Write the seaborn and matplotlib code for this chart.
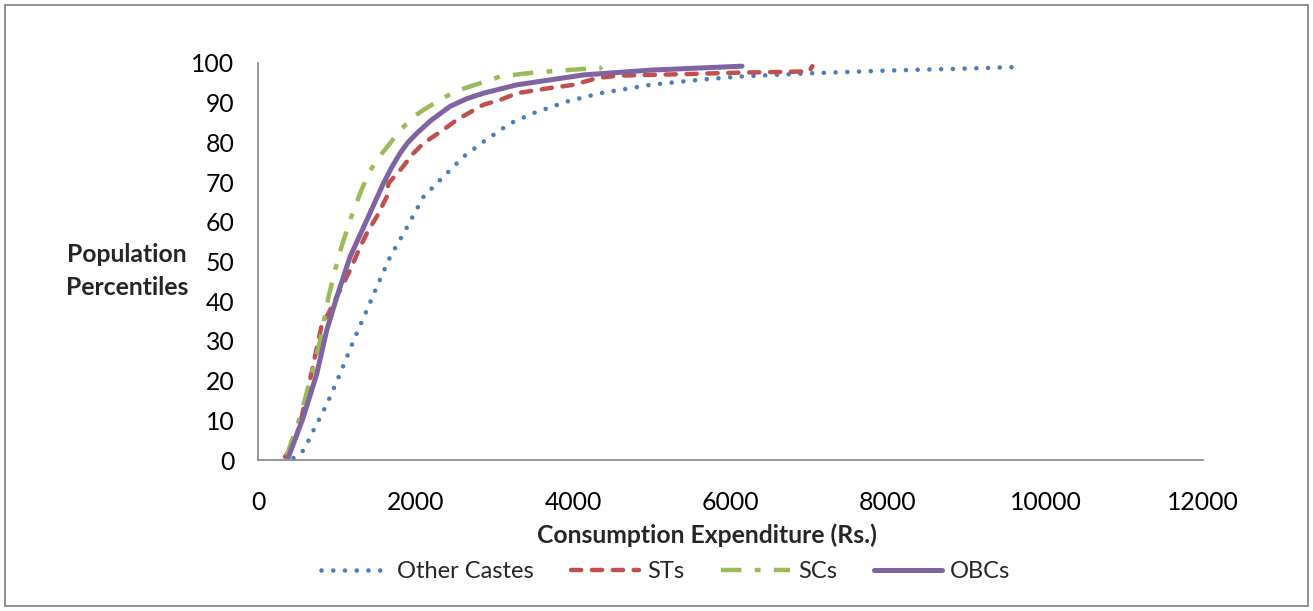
import matplotlib
matplotlib.use("Agg")
import matplotlib.pyplot as plt
import seaborn as sns
import pandas as pd
from matplotlib.patches import Rectangle

# ---- data ----
other_x = [450, 560, 620, 703, 873, 1042, 1212, 1381, 1508, 1678, 1847, 2102, 2356, 2610,
           2864, 3203, 3500, 3924, 4347, 4983, 5618, 6127, 7000, 8000, 9000, 9650]
other_y = [0.5, 2.0, 4.0, 7.4, 14.0, 21.7, 30.0, 37.7, 43.6, 51.2, 57.0, 66.3, 71.4, 76.4,
           80.2, 84.8, 87.4, 90.3, 92.4, 94.5, 95.8, 96.6, 97.4, 98.1, 98.6, 99.0]

st_x = [343, 450, 534, 680, 809, 894, 1042, 1169, 1297, 1402, 1508, 1635, 1657, 1805, 1975,
        2102, 2356, 2525, 2864, 3076, 3288, 3712, 4008, 4305, 4559, 5406, 6170, 6500, 7000, 7040]
st_y = [0.8, 4.0, 9.0, 22.0, 34.0, 36.9, 42.8, 47.8, 53.7, 57.9, 61.3, 66.3, 69.7, 73.0, 77.3,
        79.8, 83.2, 85.7, 89.5, 90.7, 92.4, 93.7, 94.5, 96.2, 96.8, 97.2, 97.6, 97.7, 97.9, 99.2]

sc_x = [364, 534, 661, 788, 894, 1021, 1169, 1297, 1400, 1508, 1678, 1780, 1890, 2000, 2102,
        2356, 2500, 2695, 3076, 3500, 4135, 4340, 4368]
sc_y = [1.1, 10.8, 20.0, 30.0, 41.0, 51.2, 60.4, 67.2, 72.0, 75.6, 79.8, 82.5, 84.8, 86.8, 88.2,
        91.2, 92.8, 94.1, 96.6, 97.6, 98.5, 98.6, 99.0]

obc_x = [386, 576, 746, 873, 1000, 1169, 1381, 1593, 1700, 1805, 1900, 2017, 2200, 2441, 2650,
         2864, 3288, 4135, 4983, 6146]
obc_y = [0.7, 10.8, 21.7, 32.7, 41.0, 51.2, 60.4, 69.7, 73.8, 77.3, 79.9, 82.3, 85.6, 89.1, 91.0,
         92.4, 94.5, 97.0, 98.2, 99.2]

series_names = ["Other Castes", "STs", "SCs", "OBCs"]
x_ticks = [0, 2000, 4000, 6000, 8000, 10000, 12000]
y_ticks = [0, 10, 20, 30, 40, 50, 60, 70, 80, 90, 100]

# ---- styling ----
sns.set_theme(style="white")
plt.rcParams['font.family'] = ['Lato', 'DejaVu Sans']

fig = plt.figure(figsize=(13.13, 6.11), dpi=100)
ax = fig.add_axes([258 / 1313, 1 - 460 / 611, (1203 - 258) / 1313, (460 - 63) / 611])

colors = ["#4A7EBB", "#C0504D", "#9BBB59", "#8064A2"]
data = [(other_x, other_y), (st_x, st_y), (sc_x, sc_y), (obc_x, obc_y)]
for (xs, ys), name, c in zip(data, series_names, colors):
    df = pd.DataFrame({"x": xs, "y": ys})
    sns.lineplot(data=df, x="x", y="y", ax=ax, color=c, estimator=None, sort=False, label=name)

lines = ax.lines
# Other castes: round dots
lines[0].set_linewidth(3.3)
lines[0].set_linestyle((0, (0.01, 2.55)))
lines[0].set_dash_capstyle("round")
# STs: dashed with round caps
lines[1].set_linewidth(3.2)
lines[1].set_linestyle((0, (2.3, 2.4)))
lines[1].set_dash_capstyle("round")
# SCs: long dash - dot
lines[2].set_linewidth(3.2)
lines[2].set_linestyle((0, (4.6, 3.0, 1.3, 3.0)))
lines[2].set_dash_capstyle("butt")
# OBCs: solid
lines[3].set_linewidth(3.6)
lines[3].set_solid_capstyle("round")
for ln in lines:
    ln.set_solid_joinstyle("round")
    ln.set_dash_joinstyle("round")

ax.set_xlim(0, 12000)
ax.set_ylim(0, 100)
ax.set_xticks(x_ticks)
ax.set_yticks(y_ticks)
ax.set_xlabel("")
ax.set_ylabel("")
for s in ["top", "right"]:
    ax.spines[s].set_visible(False)
for s in ["left", "bottom"]:
    ax.spines[s].set_color("#868686")
    ax.spines[s].set_linewidth(1.2)
ax.tick_params(axis="both", which="major", direction="out", length=6, width=1.2,
               color="#868686", labelsize=17.8, labelcolor="black")
ax.tick_params(axis="x", pad=16.5)
ax.tick_params(axis="y", pad=11)
ax.grid(False)

handles, labels = ax.get_legend_handles_labels()
if ax.get_legend():
    ax.get_legend().remove()
fig.legend(handles, labels, loc="center", bbox_to_anchor=(0.507, 1 - 572 / 611), ncol=4,
           frameon=False, fontsize=17, handlelength=2.9, handletextpad=0.35, columnspacing=1.55)

fig.text(707 / 1313, 1 - 535 / 611, "Consumption Expenditure (Rs.)", ha="center", va="center",
         fontsize=17.8, fontweight="bold")
fig.text(127 / 1313, 1 - 271 / 611, "Population\nPercentiles", ha="center", va="center",
         fontsize=17.8, fontweight="bold", linespacing=1.5)

fig.patches.append(Rectangle((5 / 1313, 5 / 611), 1303 / 1313, 601 / 611, transform=fig.transFigure,
                             fill=False, edgecolor="#898989", linewidth=1.3))

fig.savefig("out.png", dpi=100)
